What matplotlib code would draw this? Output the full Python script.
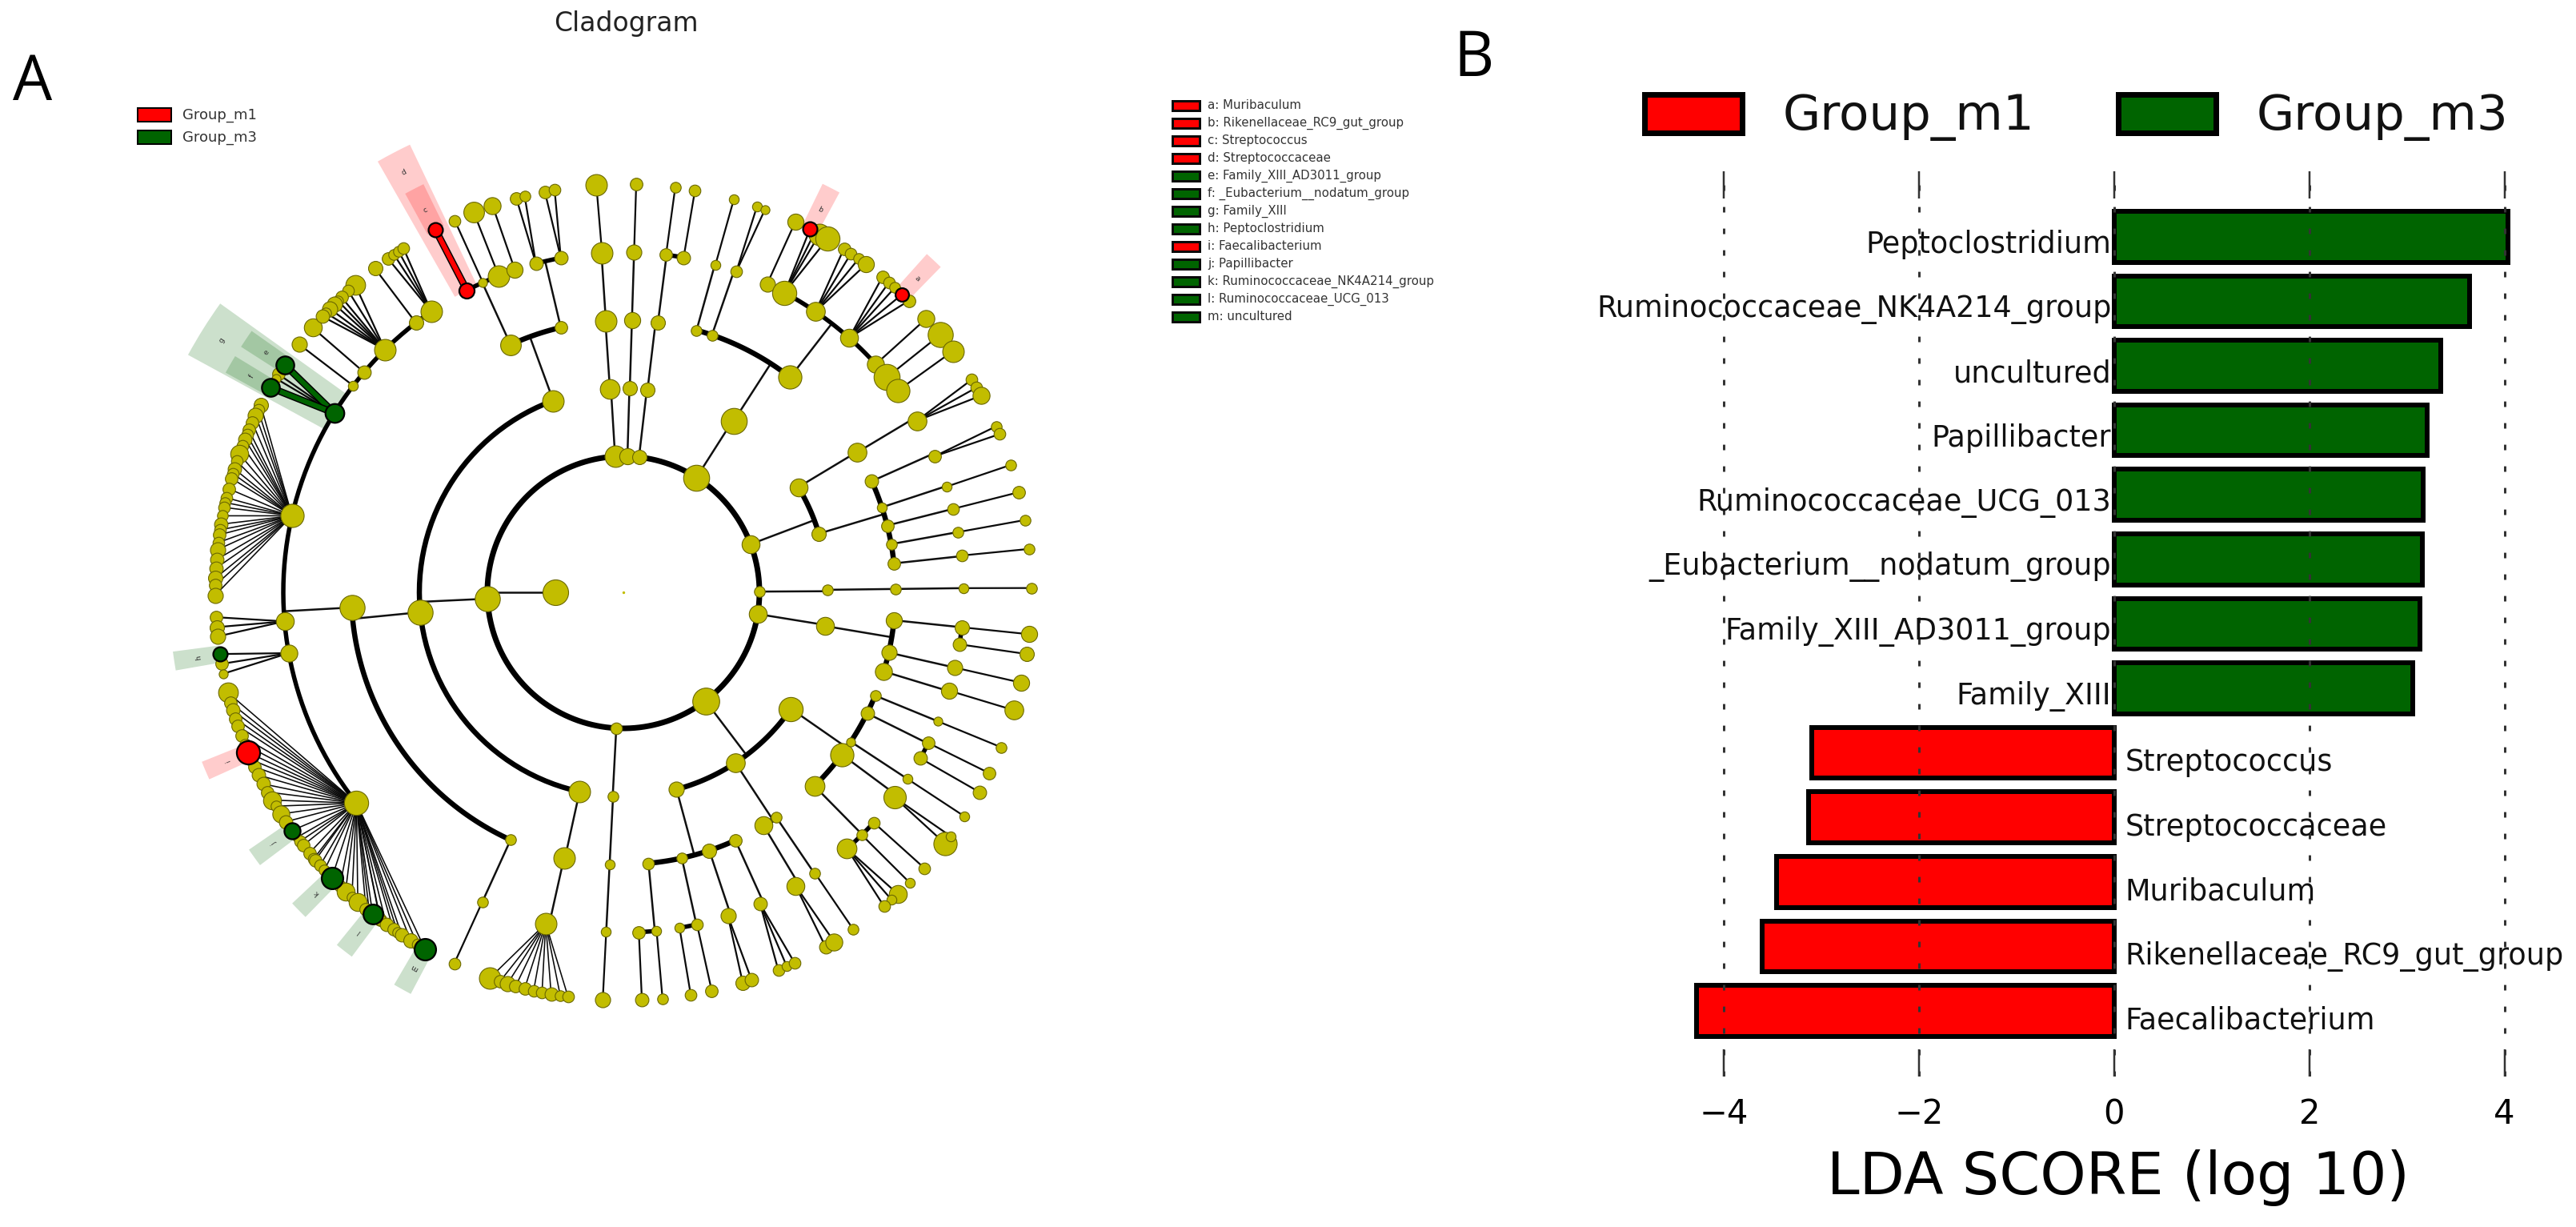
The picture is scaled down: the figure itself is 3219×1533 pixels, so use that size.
import matplotlib

matplotlib.use("Agg")
import matplotlib.pyplot as plt
import numpy as np
from matplotlib.patches import Rectangle

W, H = 3219, 1533
PX = 0.72  # points per pixel at dpi=100

YELLOW = "#c2bd00"
RED = "#ff0000"
GREEN = "#006400"

# ---------- panel B data ----------
taxa = [
    "Peptoclostridium", "Ruminococcaceae_NK4A214_group", "uncultured", "Papillibacter",
    "Ruminococcaceae_UCG_013", "_Eubacterium__nodatum_group", "Family_XIII_AD3011_group",
    "Family_XIII", "Streptococcus", "Streptococcaceae", "Muribaculum",
    "Rikenellaceae_RC9_gut_group", "Faecalibacterium",
]
lda = [4.04, 3.64, 3.35, 3.21, 3.17, 3.155, 3.13, 3.06, -3.10, -3.13, -3.46, -3.61, -4.28]

# ---------- legend of panel A ----------
key_letters = list("abcdefghijklm")
key_names = [
    "Muribaculum", "Rikenellaceae_RC9_gut_group", "Streptococcus", "Streptococcaceae",
    "Family_XIII_AD3011_group", "_Eubacterium__nodatum_group", "Family_XIII",
    "Peptoclostridium", "Faecalibacterium", "Papillibacter",
    "Ruminococcaceae_NK4A214_group", "Ruminococcaceae_UCG_013", "uncultured",
]
key_groups = ["m1", "m1", "m1", "m1", "m3", "m3", "m3", "m3", "m1", "m3", "m3", "m3", "m3"]

# ---------- cladogram: angle (deg), node diameter (px), parent index per level ----------
l2_angle = [93.5, 88.3, 83.4, 57.5, 20.7, 0.3, -9.2, -52.9, -93, 182.7]
l2_size = [24, 18, 16, 29, 20, 12, 20, 30, 13, 28]

l3_angle = [93.8, 88.2, 83.2, 57.2, 31, 16.7, 0.7, -9.5, -74.9, -56.7, -34.8, -92.9, 110.1, 185.6, 257.6]
l3_size = [22, 16, 16, 29, 20, 16, 12, 20, 17, 21, 27, 12, 24, 28, 24]
l3_parent = [0, 1, 2, 3, 4, 4, 5, 6, 7, 7, 7, 8, 9, 9, 9]

l4_angle = [93.7, 88.2, 82.7, 74.4, 71, 52.2, 30.9, 24.1, 18.2, 14.2, 10.2, 6.1, 0.7, -5.9, -12.8, -16.9,
            -84.7, -77.6, -71.6, -65.7, -55.8, -59, -45.4, -36.6, -33.3, -26.4, -22.3, -92.9,
            114.5, 103.3, 183.2, 245.5, 257.4]
l4_size = [24, 18, 16, 12, 12, 26, 21, 15, 11, 14, 12, 14, 12, 18, 17, 19,
           13, 12, 16, 14, 12, 20, 22, 26, 10, 15, 12, 11,
           23, 14, 28, 12, 24]
l4_parent = [0, 1, 2, 3, 3, 3, 4, 5, 5, 5, 5, 5, 6, 7, 7, 7,
             8, 8, 8, 8, 9, 9, 10, 10, 10, 10, 10, 11,
             12, 12, 13, 13, 14]

l5_angle = [93.6, 88.2, 82.8, 79.8, 74.3, 70.6, 65, 61.7, 55.6, 48.4, 42.1, 39.2, 36.3,
            30.3, 23.6, 18.1, 14.2, 10.2, 6.2, 0.7, -5.9, -8.8, -12.8, -16.8,
            -87.4, -84.4, -80.5, -77.5, -72.1, -66.3, -55.7, -59.6, -48.9, -45.5, -42.6,
            -37.1, -33.3, -29.2, -26.3, -22.3, -92.9,
            117.4, 114.4, 111.5, 108.6, 104.9, 100.6,
            148.2, 142.6, 139.7, 134.5, 127.6, 124.4, 167, 184.9, 190.3, 218.3, 245.5, 256.8]
l5_size = [24, 17, 14, 15, 11, 13, 17, 27, 21, 20, 19, 29, 26,
           21, 14, 11, 13, 12, 13, 11, 16, 15, 17, 18,
           14, 11, 11, 13, 17, 15, 12, 20, 22, 12, 13,
           25, 11, 15, 14, 10, 11,
           17, 10, 24, 18, 15, 15,
           21, 11, 15, 24, 16, 24, 26, 20, 19, 27, 12, 24]
l5_parent = [0, 1, 2, 2, 3, 4, 5, 5, 5, 5, 5, 5, 5,
             6, 7, 8, 9, 10, 11, 12, 13, 13, 14, 15,
             16, 16, 17, 17, 18, 19, 20, 21, 22, 22, 22,
             23, 24, 25, 25, 26, 27,
             28, 28, 28, 28, 29, 29,
             30, 30, 30, 30, 30, 30, 30, 30, 30, 30, 31, 32]

l6_angle = [93.8, 88.2, 82.7, 79.9, 74.3, 70.9, 69.7, 65.1,
            62.8, 62.0, 61.3, 60, 57.3, 56.1, 54.8, 53.5, 50.6, 49.4, 48.3, 46.9, 45.6,
            42.1, 39.1, 36.2, 31.4, 30.1, 28.8, 24, 22.8, 18.2, 14.2, 10.2, 6.1, 0.6,
            -5.9, -8.7, -12.8, -16.8, -87.4, -84.5, -80.5, -77.5, -73, -71.7,
            -67.7, -66.4, -65.2, -55.7, -60.3, -58.9, -47.7, -48.9, -50.3, -45.4, -42.5,
            -38, -36.7, -33.3, -29.3, -26.3, -22.3, -92.9,
            117.4, 114.4, 111.5, 108.7, 105.2, 104, 101.1, 99.7,
            147.7, 148.4, 146.1, 149.9, 142.6, 139.6,
            131.1, 132.4, 133.7, 134.4, 135.1, 136, 136.8, 137.5, 127.5, 125.2, 124.2, 123.4, 122.6,
            152.7, 153.5, 154.3, 155.4, 156.6, 157.3, 158, 159, 160.2, 161.3, 162.4, 163.1, 163.8, 165.3,
            166.6, 167.3, 168, 169.2, 170.4, 171.2, 171.9, 173, 174, 175.4, 176.6, 178, 179, 180.4,
            183.5, 184.9, 186.2, 190.1, 191.5, 188.7,
            194.2, 195.7, 196.8, 198, 199.1, 200.6, 201.9, 204.2, 205.3, 206.6, 208, 209.3, 210.6, 211.6,
            212.9, 214.2, 216.9, 217.6, 218.3, 219.7, 220.7, 221, 222, 222.9, 226, 227.1, 228.3, 229.4,
            230.9, 231.5, 233.4, 233.5, 234.5, 235.7, 236.4, 237.1, 238.6, 239.7,
            203.1, 215.7, 224.4, 232.1, 240.9,
            245.5, 250.9, 252.4, 253.5, 254.7, 256, 257.3, 258.5, 259.8, 261.1, 262.2]
l6_size = [24, 14, 12, 13, 11, 11, 10, 18,
           16, 14, 24, 27, 14, 13, 12, 18, 14, 13, 12, 15, 14,
           19, 28, 24, 13, 13, 19, 12, 13, 12, 14, 12, 12, 12,
           18, 16, 18, 21, 15, 12, 13, 14, 16, 15,
           13, 11, 13, 12, 15, 19, 20, 11, 13, 11, 13,
           26, 11, 11, 15, 14, 12, 17,
           16, 13, 23, 19, 14, 12, 14, 13,
           14, 10, 20, 20, 17, 20,
           22, 13, 14, 12, 17, 17, 12, 15, 16, 14, 12, 12, 13,
           16, 13, 17, 14, 14, 13, 15, 13, 20, 13, 15, 13, 14, 14,
           13, 12, 13, 12, 15, 13, 14, 13, 17, 15, 15, 16, 14, 17,
           14, 16, 17, 14, 10, 16,
           22, 14, 15, 14, 14, 14, 12, 14, 14, 15, 15, 14, 20, 12,
           19, 15, 10, 13, 14, 14, 13, 14, 13, 12, 13, 20, 12, 20,
           14, 12, 14, 12, 15, 14, 12, 15, 16, 13,
           26, 18, 24, 22, 24,
           13, 24, 14, 17, 14, 14, 13, 13, 15, 12, 13]
l6_parent = [0, 1, 2, 3, 4, 5, 5, 6,
             7, 7, 7, 7, 8, 8, 8, 8, 9, 9, 9, 9, 9,
             10, 11, 12, 13, 13, 13, 14, 14, 15, 16, 17, 18, 19,
             20, 21, 22, 23, 24, 25, 26, 27, 28, 28,
             29, 29, 29, 30, 31, 31, 32, 32, 32, 33, 34,
             35, 35, 36, 37, 38, 39, 40,
             41, 42, 43, 44, 45, 45, 46, 46,
             47, 47, 47, 47, 48, 49,
             50, 50, 50, 50, 50, 50, 50, 50, 51, 52, 52, 52, 52] + [53] * 28 + [54, 54, 54, 55, 55, 55] + [56] * 43 + [57] + [58] * 10

m1_l5 = [117.4]
m3_l5 = [148.2]
m1_l6 = [117.4, 62.8, 46.9, 203.1]
m3_l6 = [146.1, 149.9, 188.7, 215.7, 224.4, 232.1, 240.9]

# highlighted clades: letter, angle, level, group, angular width
band_letter = ["d", "g", "a", "b", "c", "e", "f", "h", "i", "j", "k", "l", "m"]
band_angle = [117.6, 147.9, 46.9, 62.8, 117.4, 146.1, 149.9, 188.7, 203.1, 215.7, 224.4, 232.1, 240.9]
band_level = [5, 5, 6, 6, 6, 6, 6, 6, 6, 6, 6, 6, 6]
band_group = ["m1", "m3", "m1", "m1", "m1", "m3", "m3", "m3", "m1", "m3", "m3", "m3", "m3"]
band_width = [4.2, 7.0, 2.4, 2.4, 2.6, 2.4, 2.4, 2.4, 2.4, 2.4, 2.4, 2.4, 2.4]


def group_color(group):
    return RED if group == "m1" else GREEN


def draw_level(ax, parent_angle, level, child_angle, child_parent, arc_lw):
    # radial stem from each parent to the next ring, thick arc joining the siblings
    for i, a in enumerate(parent_angle):
        kids = [c for c, p in zip(child_angle, child_parent) if p == i]
        if not kids:
            continue
        ax.plot(np.radians([a, a]), [level, level + 1], color="#101010", lw=1.8, zorder=2)
        if len(kids) > 1:
            arc = np.radians(np.linspace(min(kids), max(kids), 60))
            ax.plot(arc, np.full(60, level + 1.0), color="black", lw=arc_lw,
                    solid_capstyle="butt", zorder=2)


def draw_nodes(ax, angle, size, level, m1=(), m3=()):
    for a, d in zip(angle, size):
        color, edge, ew = YELLOW, "#6b6800", 0.8
        if a in m1:
            color, edge, ew = RED, "black", 1.6
        elif a in m3:
            color, edge, ew = GREEN, "black", 1.6
        z = 5 if color != YELLOW else 4
        ax.scatter(np.radians(a), level, s=(d * 1.12 * PX) ** 2, c=color, edgecolors=edge,
                   linewidths=ew, zorder=z)


def draw_cladogram(ax):
    ax.set_rlim(0, 7.5)
    ax.axis("off")

    for a, lev, grp, wid, let in zip(band_angle, band_level, band_group, band_width, band_letter):
        top = 7.29 if lev == 5 else 6.68
        ax.bar(np.radians(a), top - lev, width=np.radians(wid), bottom=lev,
               color=group_color(grp), alpha=0.2, linewidth=0, zorder=1)
        ax.text(np.radians(a), 6.97 if lev == 5 else 6.32, let, fontsize=6.5, color="#333333",
                rotation=a - 90, ha="center", va="center", rotation_mode="anchor", zorder=6)

    # root ring is closed
    ring = np.linspace(0, 2 * np.pi, 360)
    ax.plot(ring, np.full(360, 2.0), color="black", lw=7 * PX, zorder=2)
    ax.plot(np.radians([180, 180]), [1, 2], color="#101010", lw=1.8, zorder=2)

    draw_level(ax, l2_angle, 2, l3_angle, l3_parent, 6.5 * PX)
    draw_level(ax, l3_angle, 3, l4_angle, l4_parent, 6.5 * PX)
    draw_level(ax, l4_angle, 4, l5_angle, l5_parent, 5.5 * PX)

    # last level: straight lines from the parent to every leaf
    for a, p in zip(l6_angle, l6_parent):
        pa = l5_angle[p]
        fan = l6_parent.count(p) > 8
        ax.plot(np.radians([pa, a]), [5, 6], color="#0a0a0a", lw=1.15 if fan else 1.6, zorder=2)
        if a in m1_l6 and pa in m1_l5:
            c = RED
        elif a in m3_l6 and pa in m3_l5:
            c = GREEN
        else:
            continue
        ax.plot(np.radians([pa, a]), [5, 6], color="black", lw=9 * PX, zorder=3)
        ax.plot(np.radians([pa, a]), [5, 6], color=c, lw=6 * PX, zorder=3)

    ax.scatter(0, 0, s=2, c=YELLOW, zorder=4)
    ax.scatter(np.radians(180), 1, s=(32 * PX) ** 2, c=YELLOW, edgecolors="#6b6800",
               linewidths=0.8, zorder=4)
    draw_nodes(ax, l2_angle, l2_size, 2)
    draw_nodes(ax, l3_angle, l3_size, 3)
    draw_nodes(ax, l4_angle, l4_size, 4)
    draw_nodes(ax, l5_angle, l5_size, 5, m1_l5, m3_l5)
    draw_nodes(ax, l6_angle, l6_size, 6, m1_l6, m3_l6)


def draw_lda(ax):
    pos = np.arange(len(taxa))[::-1]
    colors = [GREEN if v > 0 else RED for v in lda]
    ax.barh(pos, lda, height=0.79, color=colors, edgecolor="black", linewidth=6 * PX, zorder=2)
    for y, v, name in zip(pos, lda, taxa):
        if v > 0:
            ax.text(-0.03, y - 0.12, name, ha="right", va="center", fontsize=26.3, color="#111111", zorder=4)
        else:
            ax.text(0.11, y - 0.15, name, ha="left", va="center", fontsize=26.3, color="#111111", zorder=4)
    ax.set_xlim(-4.4, 4.1)
    ax.set_ylim(-1.017, 13.015)
    ax.set_yticks([])
    ax.set_xticks([-4, -2, 0, 2, 4])
    ax.tick_params(axis="x", which="both", top=True, bottom=True, direction="in",
                   length=34 * PX, width=2.5 * PX, color="#333333", labelsize=30, pad=19)
    ax.grid(axis="x", color="#333333", linewidth=3 * PX, linestyle=(0, (2.3, 6.7)), zorder=3)
    ax.set_axisbelow(False)
    for s in ax.spines.values():
        s.set_visible(False)
    ax.set_xlabel("LDA SCORE (log 10)", fontsize=52.6, labelpad=16)
    ax.xaxis.label.set_x((2647 - 2105.6) / (3141.8 - 2105.6))


def draw_overlay(ov):
    ov.set_xlim(0, W)
    ov.set_ylim(H, 0)
    ov.axis("off")

    ov.text(16, 125, "A", fontsize=56, family="Open Sans", va="baseline", ha="left")
    ov.text(1816, 95, "B", fontsize=56, family="Open Sans", va="baseline", ha="left")
    ov.text(782, 30, "Cladogram", fontsize=23.7, ha="center", va="center", color="#222222")

    # small group legend
    for y, name, c in [(135, "Group_m1", RED), (163, "Group_m3", GREEN)]:
        ov.add_patch(Rectangle((172, y), 42, 17, fc=c, ec="black", lw=2 * PX))
        ov.text(228, y + 9, name, fontsize=13, va="center", color="#333333")

    # letter legend
    for i, (let, name, grp) in enumerate(zip(key_letters, key_names, key_groups)):
        y = 131.7 + 22 * i
        ov.add_patch(Rectangle((1465, y - 6), 34, 12, fc=group_color(grp), ec="#0a0a0a", lw=3 * PX))
        ov.text(1509, y, f"{let}: {name}", fontsize=10.8, va="center", color="#333333")

    # panel B legend
    for x, name, c in [(2055, "Group_m1", RED), (2647, "Group_m3", GREEN)]:
        ov.add_patch(Rectangle((x, 118), 122, 48, fc=c, ec="black", lw=7 * PX))
        ov.text(x + 173, 147, name, fontsize=44, va="center", color="#111111")


def main():
    fig = plt.figure(figsize=(W / 100, H / 100), dpi=100)

    cx, cy, rad = 779, 740, 637.5
    ax_a = fig.add_axes([(cx - rad) / W, 1 - (cy + rad) / H, 2 * rad / W, 2 * rad / H], projection="polar")
    draw_cladogram(ax_a)

    ax_b = fig.add_axes([2105.6 / W, 1 - 1345 / H, (3141.8 - 2105.6) / W, (1345 - 214) / H])
    draw_lda(ax_b)

    ov = fig.add_axes([0, 0, 1, 1], zorder=10)
    ov.patch.set_alpha(0)
    draw_overlay(ov)

    fig.savefig("out.png", dpi=100)
    print("Wrote out.png")


if __name__ == "__main__":
    main()
